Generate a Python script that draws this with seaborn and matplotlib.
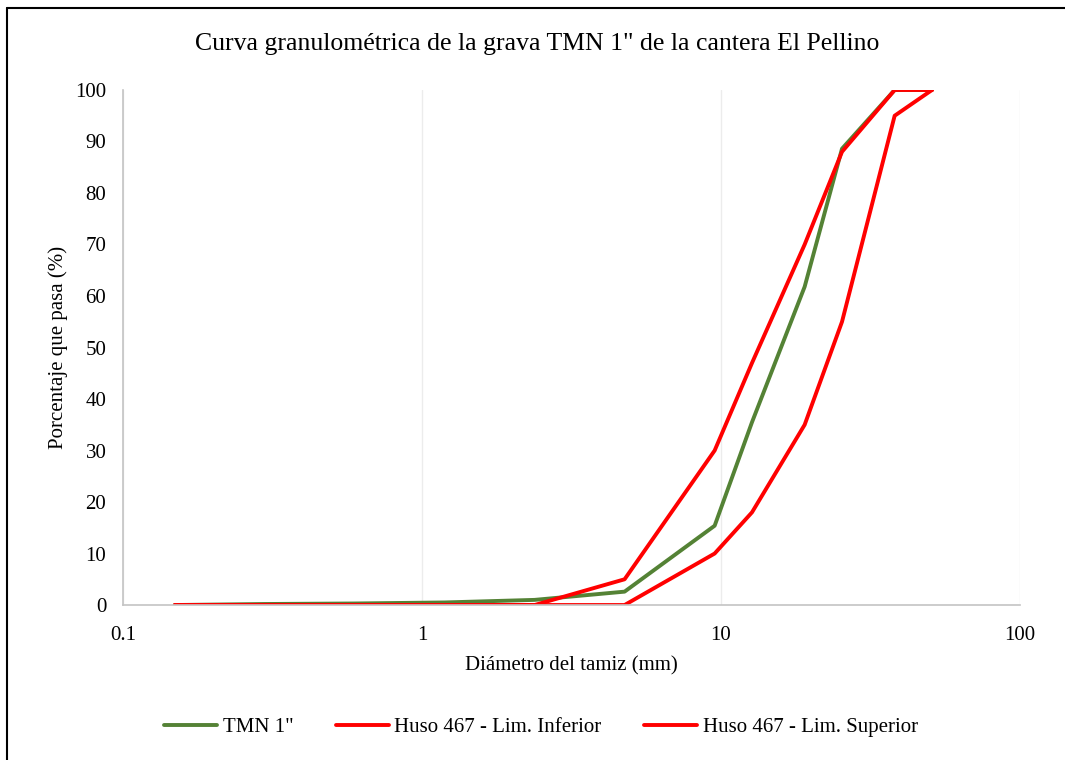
import matplotlib
matplotlib.use("Agg")
import matplotlib.pyplot as plt
import seaborn as sns
import pandas as pd
from matplotlib.lines import Line2D

# Sieve openings (mm) and percentage passing
sieve_mm = [50.8, 38.1, 25.4, 19.05, 12.7, 9.525, 4.76, 2.38, 1.19, 0.595, 0.297, 0.149]
tmn_1 = [100, 100, 88.6, 61.8, 35.5, 15.4, 2.6, 1.0, 0.5, 0.3, 0.2, 0.0]
lim_inferior = [100, 95, 55, 35, 18, 10, 0, 0, 0, 0, 0, 0]
lim_superior = [100, 100, 88, 70, 47, 30, 5, 0, 0, 0, 0, 0]

series_names = ['TMN 1"', "Huso 467 - Lim. Inferior", "Huso 467 - Lim. Superior"]
series_colors = ["#548235", "#FF0000", "#FF0000"]

sns.set_style("white")
plt.rcParams["font.family"] = ["Liberation Serif", "DejaVu Serif"]
plt.rcParams["text.color"] = "black"
plt.rcParams["axes.labelcolor"] = "black"

fig = plt.figure(figsize=(10.65, 7.6), dpi=100)
ax = fig.add_axes([0.1155, 0.2039, 0.8422, 0.6777])

for name, values, color in zip(series_names, [tmn_1, lim_inferior, lim_superior], series_colors):
    df = pd.DataFrame({"Diametro": sieve_mm, "Pasa": values})
    sns.lineplot(data=df, x="Diametro", y="Pasa", sort=False, color=color,
                 linewidth=2.8, ax=ax, label=name, solid_capstyle="round")

ax.set_xscale("log")
ax.set_xlim(0.1, 100)
ax.set_ylim(0, 100)
ax.set_xticks([0.1, 1, 10, 100])
ax.set_xticklabels(["0.1", "1", "10", "100"])
ax.set_yticks(range(0, 101, 10))
ax.minorticks_off()
ax.tick_params(axis="y", length=0, labelsize=15, pad=12, colors="black")
ax.tick_params(axis="x", length=0, labelsize=15, pad=15, colors="black")

ax.grid(axis="x", color="#ececec", linewidth=1)
ax.grid(axis="y", visible=False)
for side in ["top", "right"]:
    ax.spines[side].set_visible(False)
for side in ["left", "bottom"]:
    ax.spines[side].set_color("#c4c4c4")
    ax.spines[side].set_linewidth(1.2)

ax.set_xlabel("Diámetro del tamiz (mm)", fontsize=15, labelpad=8)
ax.set_ylabel("Porcentaje que pasa (%)", fontsize=15, labelpad=5)
fig.text(0.504, 0.942, 'Curva granulométrica de la grava TMN 1" de la cantera El Pellino',
         ha="center", va="center", fontsize=18.5)

ax.legend(loc="center", bbox_to_anchor=(0.508, 0.043), bbox_transform=fig.transFigure,
          ncol=3, frameon=False, fontsize=15, handlelength=2.55, columnspacing=2.05,
          handletextpad=0.25)

# outer chart border (only top and left visible in the crop)
fig.add_artist(Line2D([0.007, 1.0], [0.990, 0.990], transform=fig.transFigure, color="black", linewidth=1.5))
fig.add_artist(Line2D([0.007, 0.007], [0.0, 0.990], transform=fig.transFigure, color="black", linewidth=1.5))

fig.savefig("out.png", dpi=100)
